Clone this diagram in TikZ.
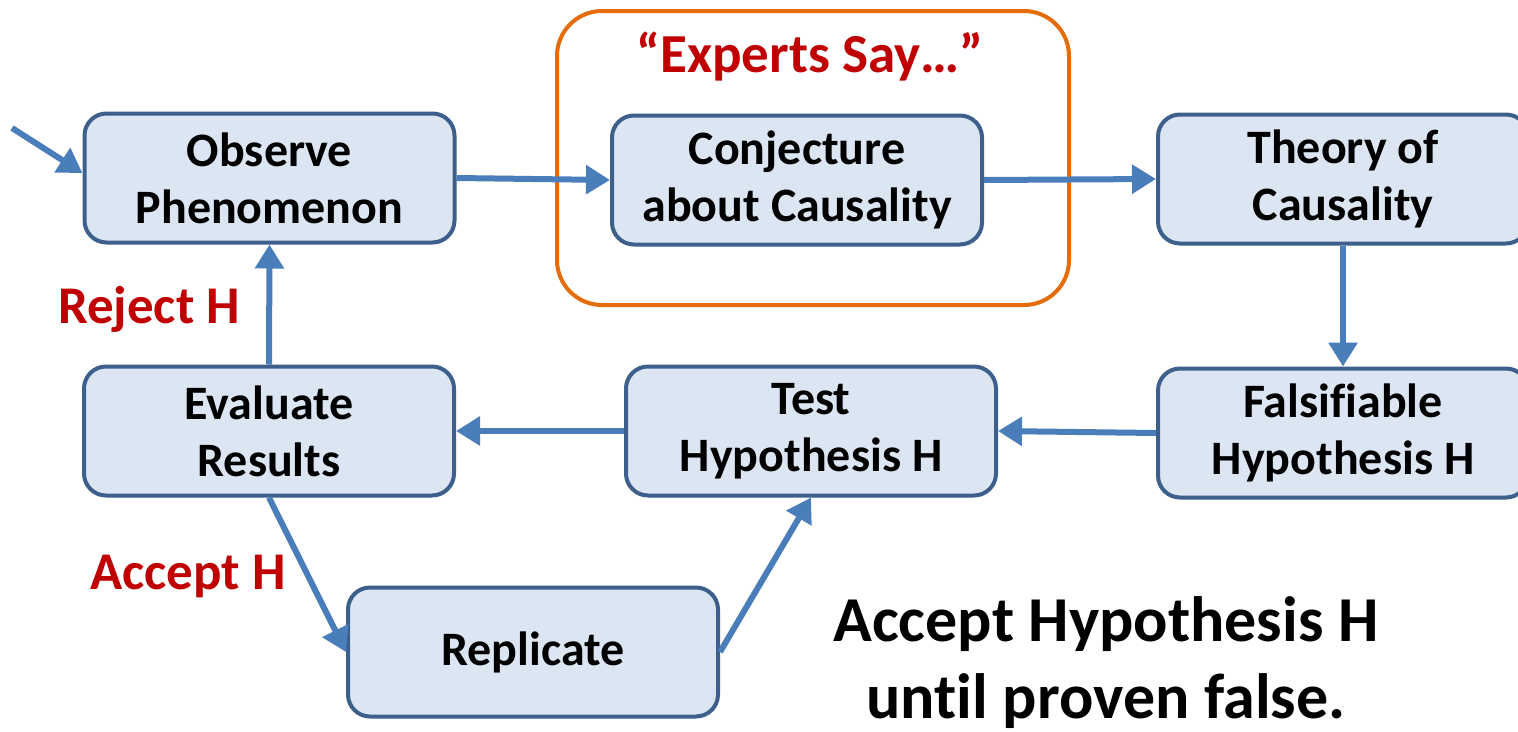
\documentclass[tikz,border=0pt]{standalone}
\usepackage{fontspec}
\setmainfont{Carlito}[Ligatures=NoCommon]
\usetikzlibrary{arrows.meta}
\definecolor{boxfill}{HTML}{DCE6F2}
\definecolor{boxline}{HTML}{3C5F8C}
\definecolor{arrowblue}{HTML}{4A7EBB}
\definecolor{orangeline}{HTML}{E46C0A}
\definecolor{redtext}{HTML}{C00000}
\begin{document}
\begin{tikzpicture}[x=1pt,y=-1pt,
  stepbox/.style={draw=boxline, fill=boxfill, line width=4pt, rounded corners=22pt,
    minimum width=370pt, minimum height=129pt, align=center,
    font=\fontsize{48}{57}\selectfont\bfseries, inner sep=0pt},
  flow/.style={draw=arrowblue, line width=6pt, -{Triangle[length=24pt,width=28pt]}},
  redlabel/.style={text=redtext, font=\fontsize{53}{57}\selectfont\bfseries, inner sep=0pt}
]
\useasboundingbox (0,0) rectangle (1518,731);
\draw[orangeline, line width=4pt, rounded corners=45pt] (557,11) rectangle (1069,305);
\node[redlabel, font=\fontsize{55}{57}\selectfont\bfseries] (experts) at (810,57) {“Experts Say…”};

\node[stepbox] (obs) at (269.5,178) {Observe\\Phenomenon};
\node[stepbox] (conj) at (797,180) {Conjecture\\about Causality};
\node[stepbox] (theory) at (1343,179) {Theory of\\Causality};
\node[stepbox] (fals) at (1343,433) {Falsifiable\\Hypothesis H};
\node[stepbox] (test) at (811,431) {Test\\Hypothesis H};
\node[stepbox] (eval) at (269,431) {Evaluate\\Results};
\node[stepbox] (rep) at (533,652) {Replicate};

\node[redlabel] (reject) at (149,309) {Reject H};
\node[redlabel] (accept) at (188,576) {Accept H};
\node[align=center, font=\fontsize{64}{77}\selectfont\bfseries, inner sep=0pt] (note) at (1106,663) {Accept Hypothesis H\\unt\kern0pt il proven false.};

\coordinate (start) at (12,128);
\draw[flow] (start) -- ([yshift=5pt]obs.west);
\draw[flow] (obs.east) -- (conj.west);
\draw[flow] (conj.east) -- (theory.west);
\draw[flow] (theory.south) -- (fals.north);
\draw[flow] (fals.west) -- (test.east);
\draw[flow] (test.west) -- (eval.east);
\draw[flow] (eval.north) -- (obs.south);
\draw[flow] (eval.south) -- (rep.west);
\draw[flow] (rep.east) -- (test.south);
\end{tikzpicture}
\end{document}
